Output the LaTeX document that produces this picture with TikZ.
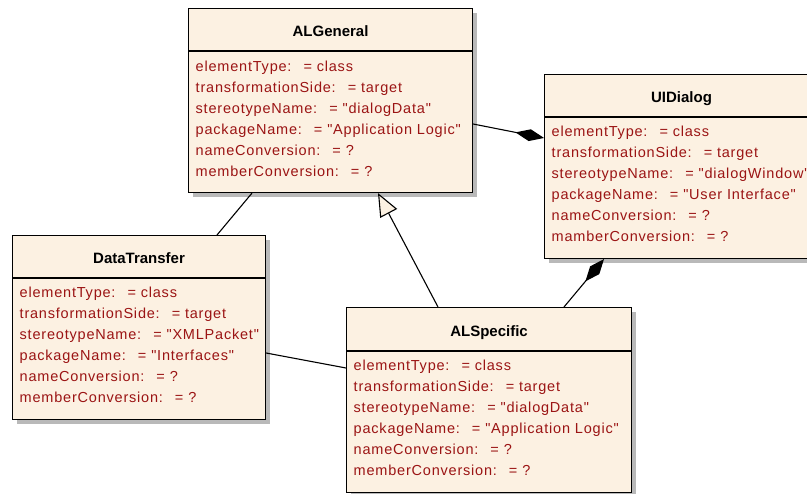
\documentclass[tikz,border=0pt]{standalone}
\usepackage{fontspec}
\setmainfont{Liberation Sans}
\newfontfamily\attrfont[LetterSpace=5.5]{Liberation Sans}
\usetikzlibrary{arrows.meta,shadows,calc}
\definecolor{boxfill}{RGB}{252,241,226}
\definecolor{attrred}{RGB}{155,20,20}
\definecolor{shadowgray}{RGB}{185,185,185}
\begin{document}
\begin{tikzpicture}[x=1pt,y=-1pt,
  classbox/.style={draw=black, line width=1.1pt, fill=boxfill, rectangle, inner sep=0pt, anchor=north west,
    drop shadow={shadow xshift=4.5pt, shadow yshift=-4.5pt, fill=shadowgray, opacity=1}},
  divider/.style={line width=1.1pt, black},
  titletext/.style={font=\bfseries\fontsize{15}{18}\selectfont, anchor=base, inner sep=0pt},
  attrtext/.style={font=\attrfont\fontsize{14.5}{17}\selectfont, text=attrred, anchor=base west, inner sep=0pt},
  conn/.style={line width=1.1pt, black}]
\useasboundingbox (0,0) rectangle (807,494);

% ALGeneral
\node[classbox, minimum width=284pt, minimum height=184pt] (alg) at (188,8) {};
\draw[divider] ([yshift=-43pt]alg.north west) -- ([yshift=-43pt]alg.north east);
\node[titletext] (alg-t) at ([yshift=-29pt]alg.north) {ALGeneral};
\foreach \n/\v [count=\i from 0] in {elementType/class, transformationSide/target, stereotypeName/"dialogData", packageName/"Application Logic", nameConversion/?, memberConversion/?}
  \node[attrtext] (alg-a\i) at ([xshift=7.5pt, yshift={-64pt-20.9pt*\i}]alg.north west) {\n:\hspace{12pt}= \v};

% UIDialog
\node[classbox, minimum width=274pt, minimum height=184pt] (ui) at (544,74) {};
\draw[divider] ([yshift=-43pt]ui.north west) -- ([yshift=-43pt]ui.north east);
\node[titletext] (ui-t) at ([yshift=-29pt]ui.north) {UIDialog};
\foreach \n/\v [count=\i from 0] in {elementType/class, transformationSide/target, stereotypeName/"dialogWindow", packageName/"User Interface", nameConversion/?, mamberConversion/?}
  \node[attrtext] (ui-a\i) at ([xshift=7.5pt, yshift={-63pt-20.9pt*\i}]ui.north west) {\n:\hspace{12pt}= \v};

% DataTransfer
\node[classbox, minimum width=253pt, minimum height=184pt] (dt) at (12,235) {};
\draw[divider] ([yshift=-43pt]dt.north west) -- ([yshift=-43pt]dt.north east);
\node[titletext] (dt-t) at ([yshift=-29pt]dt.north) {DataTransfer};
\foreach \n/\v [count=\i from 0] in {elementType/class, transformationSide/target, stereotypeName/"XMLPacket", packageName/"Interfaces", nameConversion/?, memberConversion/?}
  \node[attrtext] (dt-a\i) at ([xshift=7.5pt, yshift={-63pt-20.9pt*\i}]dt.north west) {\n:\hspace{12pt}= \v};

% ALSpecific
\node[classbox, minimum width=285pt, minimum height=185pt] (als) at (346,307) {};
\draw[divider] ([yshift=-44pt]als.north west) -- ([yshift=-44pt]als.north east);
\node[titletext] (als-t) at ([yshift=-30pt]als.north) {ALSpecific};
\foreach \n/\v [count=\i from 0] in {elementType/class, transformationSide/target, stereotypeName/"dialogData", packageName/"Application Logic", nameConversion/?, memberConversion/?}
  \node[attrtext] (als-a\i) at ([xshift=7.5pt, yshift={-64pt-20.9pt*\i}]als.north west) {\n:\hspace{12pt}= \v};

% connectors
\draw[conn] ([xshift=64pt]alg.south west) -- ([xshift=205pt]dt.north west);
\draw[conn] ([yshift=-118pt]dt.north east) -- ([yshift=-61pt]als.north west);
\draw[conn, -{Triangle[length=23pt, width=19pt, fill=boxfill, line width=1.1pt]}]
  ([xshift=92pt]als.north west) -- ([xshift=190pt]alg.south west);
\draw[conn, -{Diamond[length=29pt, width=12pt]}]
  ([yshift=-116pt]alg.north east) -- ([yshift=-64pt]ui.north west);
\draw[conn, -{Diamond[length=29pt, width=12pt]}]
  ([xshift=218pt]als.north west) -- ([xshift=60pt]ui.south west);
\end{tikzpicture}
\end{document}
